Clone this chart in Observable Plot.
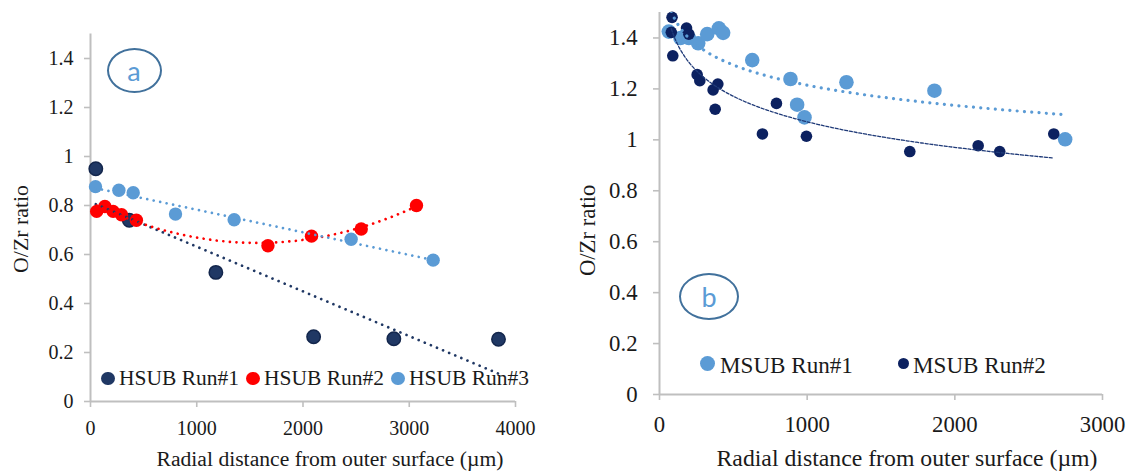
<!DOCTYPE html>
<html><head><meta charset="utf-8">
<script src="https://cdn.jsdelivr.net/npm/d3@7"></script>
<script src="https://cdn.jsdelivr.net/npm/@observablehq/plot@0.6"></script>
<style>
body{margin:0;background:#fff;}
#wrap{position:relative;width:1130px;height:475px;overflow:hidden;color:#1a1a1a;font-family:"Liberation Serif","Times New Roman",serif;}
#wrap svg{position:absolute;top:0;overflow:visible;}
.t{position:absolute;white-space:nowrap;line-height:1;}
.dot{position:absolute;border-radius:50%;box-sizing:border-box;}
.ell{position:absolute;border:2px solid #41719c;border-radius:50%;box-sizing:border-box;display:flex;align-items:center;justify-content:center;font-family:Lato,"Open Sans",sans-serif;color:#5b9bd5;font-size:27px;line-height:1;}
</style></head><body><div id="wrap"></div>
<script>
// ---------- data ----------
const hsubRun1X = [50, 365, 1180, 2100, 2855, 3840];
const hsubRun1Y = [0.95, 0.74, 0.527, 0.264, 0.256, 0.254];
const hsubRun2X = [58, 135, 213, 292, 432, 1670, 2080, 2548, 3068];
const hsubRun2Y = [0.776, 0.796, 0.776, 0.762, 0.74, 0.636, 0.675, 0.704, 0.80];
const hsubRun3X = [47, 267, 402, 800, 1352, 2453, 3225];
const hsubRun3Y = [0.877, 0.862, 0.852, 0.765, 0.742, 0.662, 0.577];
const msubRun1X = [63, 142, 199, 262, 323, 402, 431, 628, 887, 932, 982, 1266, 1862, 2747];
const msubRun1Y = [1.425, 1.40, 1.40, 1.379, 1.415, 1.438, 1.42, 1.313, 1.239, 1.138, 1.088, 1.226, 1.193, 1.002];
const msubRun2X = [85, 80, 90, 183, 199, 255, 273, 363, 395, 377, 792, 697, 995, 1695, 2158, 2304, 2670];
const msubRun2Y = [1.481, 1.422, 1.33, 1.439, 1.415, 1.256, 1.232, 1.196, 1.219, 1.12, 1.143, 1.023, 1.014, 0.954, 0.977, 0.954, 1.023];
const yTicks = [0, 0.2, 0.4, 0.6, 0.8, 1, 1.2, 1.4];
const xTicksA = [0, 1000, 2000, 3000, 4000];
const xTicksB = [0, 1000, 2000, 3000];
const seriesA = ["HSUB Run#1", "HSUB Run#2", "HSUB Run#3"];
const seriesB = ["MSUB Run#1", "MSUB Run#2"];
const xTitle = "Radial distance from outer surface (\u00b5m)";
const yTitle = "O/Zr ratio";

// ---------- font sizing ----------
const FONT = `"Liberation Serif", "Times New Roman", serif`;
const ctx = document.createElement("canvas").getContext("2d");
function fitSize(str, targetWidth) {
  ctx.font = `100px ${FONT}`;
  return 100 * targetWidth / ctx.measureText(str).width;
}
const fsTickA = fitSize("1000", 40), fsTickB = fitSize("3000", 45.5);

// ---------- fits (computed from the data) ----------
const rows = (xs, ys) => xs.map((x, i) => ({x, y: ys[i]}));
function linFit(xs, ys) {
  const mx = d3.mean(xs), my = d3.mean(ys);
  let sxy = 0, sxx = 0;
  xs.forEach((x, i) => { sxy += (x - mx) * (ys[i] - my); sxx += (x - mx) ** 2; });
  const b = sxy / sxx, a = my - b * mx;
  return x => a + b * x;
}
function logFit(xs, ys) {
  const f = linFit(xs.map(Math.log), ys);
  return x => f(Math.log(x));
}
function poly2Fit(xs, ys) {
  const s = k => d3.sum(xs, x => x ** k);
  const t = k => d3.sum(xs, (x, i) => ys[i] * x ** k);
  const M = [[s(0), s(1), s(2), t(0)], [s(1), s(2), s(3), t(1)], [s(2), s(3), s(4), t(2)]];
  for (let i = 0; i < 3; i++) {
    for (let j = i + 1; j < 3; j++) {
      const f = M[j][i] / M[i][i];
      for (let k = i; k < 4; k++) M[j][k] -= f * M[i][k];
    }
  }
  const c = [0, 0, 0];
  for (let i = 2; i >= 0; i--) {
    let v = M[i][3];
    for (let k = i + 1; k < 3; k++) v -= M[i][k] * c[k];
    c[i] = v / M[i][i];
  }
  return x => c[0] + c[1] * x + c[2] * x * x;
}
function curve(f, xs, n = 200) {
  const [lo, hi] = d3.extent(xs);
  return d3.range(n + 1).map(i => { const x = lo + (hi - lo) * i / n; return {x, y: f(x)}; });
}

const cNavyA = "#203864", cRed = "#ff0000", cLight = "#5b9bd5", cNavyB = "#0c2160";
const axisGray = "#bfbfbf";

function axes(xTicks, fs, padX, padY) {
  return [
    Plot.ruleX([0], {stroke: axisGray, strokeWidth: 2}),
    Plot.ruleY([0], {stroke: axisGray, strokeWidth: 2}),
    Plot.axisY({ticks: yTicks, tickSize: 6, tickPadding: padY, stroke: axisGray, strokeWidth: 1.6, fill: "#1a1a1a", fontSize: fs, label: null, tickFormat: d => String(d)}),
    Plot.axisX({ticks: xTicks, tickSize: 6, tickPadding: padX, stroke: axisGray, strokeWidth: 1.6, fill: "#1a1a1a", fontSize: fs, label: null, tickFormat: d => String(d)})
  ];
}
const dotted = (color, w, gap) => ({x: "x", y: "y", stroke: color, strokeWidth: w, strokeDasharray: `0.01 ${gap}`, strokeLinecap: "round", clip: true});

// ---------- panel a ----------
const a1 = rows(hsubRun1X, hsubRun1Y), a2 = rows(hsubRun2X, hsubRun2Y), a3 = rows(hsubRun3X, hsubRun3Y);
const pa = Plot.plot({
  width: 560, height: 475,
  marginLeft: 90, marginRight: 45, marginTop: 33.5, marginBottom: 74,
  x: {domain: [0, 4000]},
  y: {domain: [0, 1.5]},
  style: {fontFamily: FONT, fontSize: `${fsTickA}px`, color: "#1a1a1a", background: "transparent"},
  marks: [
    ...axes(xTicksA, fsTickA, 13, 11),
    Plot.dot(a1, {x: "x", y: "y", r: 6.7, fill: cNavyA, stroke: "#13264c", strokeWidth: 1.5}),
    Plot.dot(a2, {x: "x", y: "y", r: 6.7, fill: cRed}),
    Plot.dot(a3, {x: "x", y: "y", r: 6.7, fill: cLight}),
    Plot.line(curve(linFit(hsubRun1X, hsubRun1Y), hsubRun1X), dotted(cNavyA, 2.7, 6.6)),
    Plot.line(curve(poly2Fit(hsubRun2X, hsubRun2Y), hsubRun2X), dotted(cRed, 2.7, 6.6)),
    Plot.line(curve(linFit(hsubRun3X, hsubRun3Y), hsubRun3X), dotted(cLight, 2.7, 6.6))
  ]
});
pa.style.left = "0px";

// ---------- panel b ----------
const b1 = rows(msubRun1X, msubRun1Y), b2 = rows(msubRun2X, msubRun2Y);
const pb = Plot.plot({
  width: 565, height: 475,
  marginLeft: 94, marginRight: 28, marginTop: 12, marginBottom: 81,
  x: {domain: [0, 3000]},
  y: {domain: [0, 1.5]},
  style: {fontFamily: FONT, fontSize: `${fsTickB}px`, color: "#1a1a1a", background: "transparent"},
  marks: [
    ...axes(xTicksB, fsTickB, 15, 16),
    Plot.dot(b1, {x: "x", y: "y", r: 7.3, fill: cLight}),
    Plot.dot(b2, {x: "x", y: "y", r: 5.8, fill: cNavyB}),
    Plot.line(curve(logFit(msubRun1X, msubRun1Y), msubRun1X), dotted(cLight, 3.2, 7.3)),
    Plot.line(curve(logFit(msubRun2X, msubRun2Y), msubRun2X), {x: "x", y: "y", stroke: "#1f3a78", strokeWidth: 1.3, strokeDasharray: "3 1.8", clip: true})
  ]
});
pb.style.left = "565px";

const wrap = document.getElementById("wrap");
wrap.append(pa, pb);

// ---------- html annotations ----------
function text(str, left, top, fs, extra = "") {
  const d = document.createElement("div");
  d.className = "t"; d.textContent = str;
  d.style.cssText += `left:${left}px;top:${top}px;font-size:${fs}px;${extra}`;
  wrap.append(d); return d;
}
function centered(str, cx, baseline, width) {
  const fs = fitSize(str, width);
  return text(str, cx - 300, baseline - 0.84 * fs, fs, "width:600px;text-align:center;");
}
function rotated(str, cx, cy, width) {
  const fs = fitSize(str, width);
  text(str, cx - 150, cy - fs / 2, fs, "width:300px;text-align:center;transform:rotate(-90deg);");
}
function dot(cx, cy, r, color) {
  const d = document.createElement("div");
  d.className = "dot";
  d.style.cssText += `left:${cx - r}px;top:${cy - r}px;width:${2 * r}px;height:${2 * r}px;background:${color};`;
  wrap.append(d);
}
function ellipse(label, cx, cy, rx, ry) {
  const d = document.createElement("div");
  d.className = "ell"; d.textContent = label;
  d.style.cssText += `left:${cx - rx}px;top:${cy - ry}px;width:${2 * rx}px;height:${2 * ry}px;`;
  wrap.append(d);
}

// axis titles
centered(xTitle, 330, 466.7, 347);
centered(xTitle, 907, 466.5, 381);
rotated(yTitle, 22, 229, 88);
rotated(yTitle, 588, 230, 91.5);

// legend a
const fsLegA = fitSize(seriesA[0], 120);
const legA = [[108, 119, cNavyA], [253, 264, cRed], [398, 409, cLight]];
seriesA.forEach((s, i) => {
  dot(legA[i][0], 378.3, 6.7, legA[i][2]);
  text(s, legA[i][1], 386 - 0.84 * fsLegA, fsLegA);
});
// legend b
const fsLegB = fitSize(seriesB[0], 133);
const legB = [[707, 720, cLight, 7.5], [903, 913, cNavyB, 5.5]];
seriesB.forEach((s, i) => {
  dot(legB[i][0], 363.5, legB[i][3], legB[i][2]);
  text(s, legB[i][1], 373 - 0.84 * fsLegB, fsLegB);
});

ellipse("a", 134, 70.5, 27.5, 22.5);
ellipse("b", 709, 296, 30, 23.5);
</script>
</body></html>
